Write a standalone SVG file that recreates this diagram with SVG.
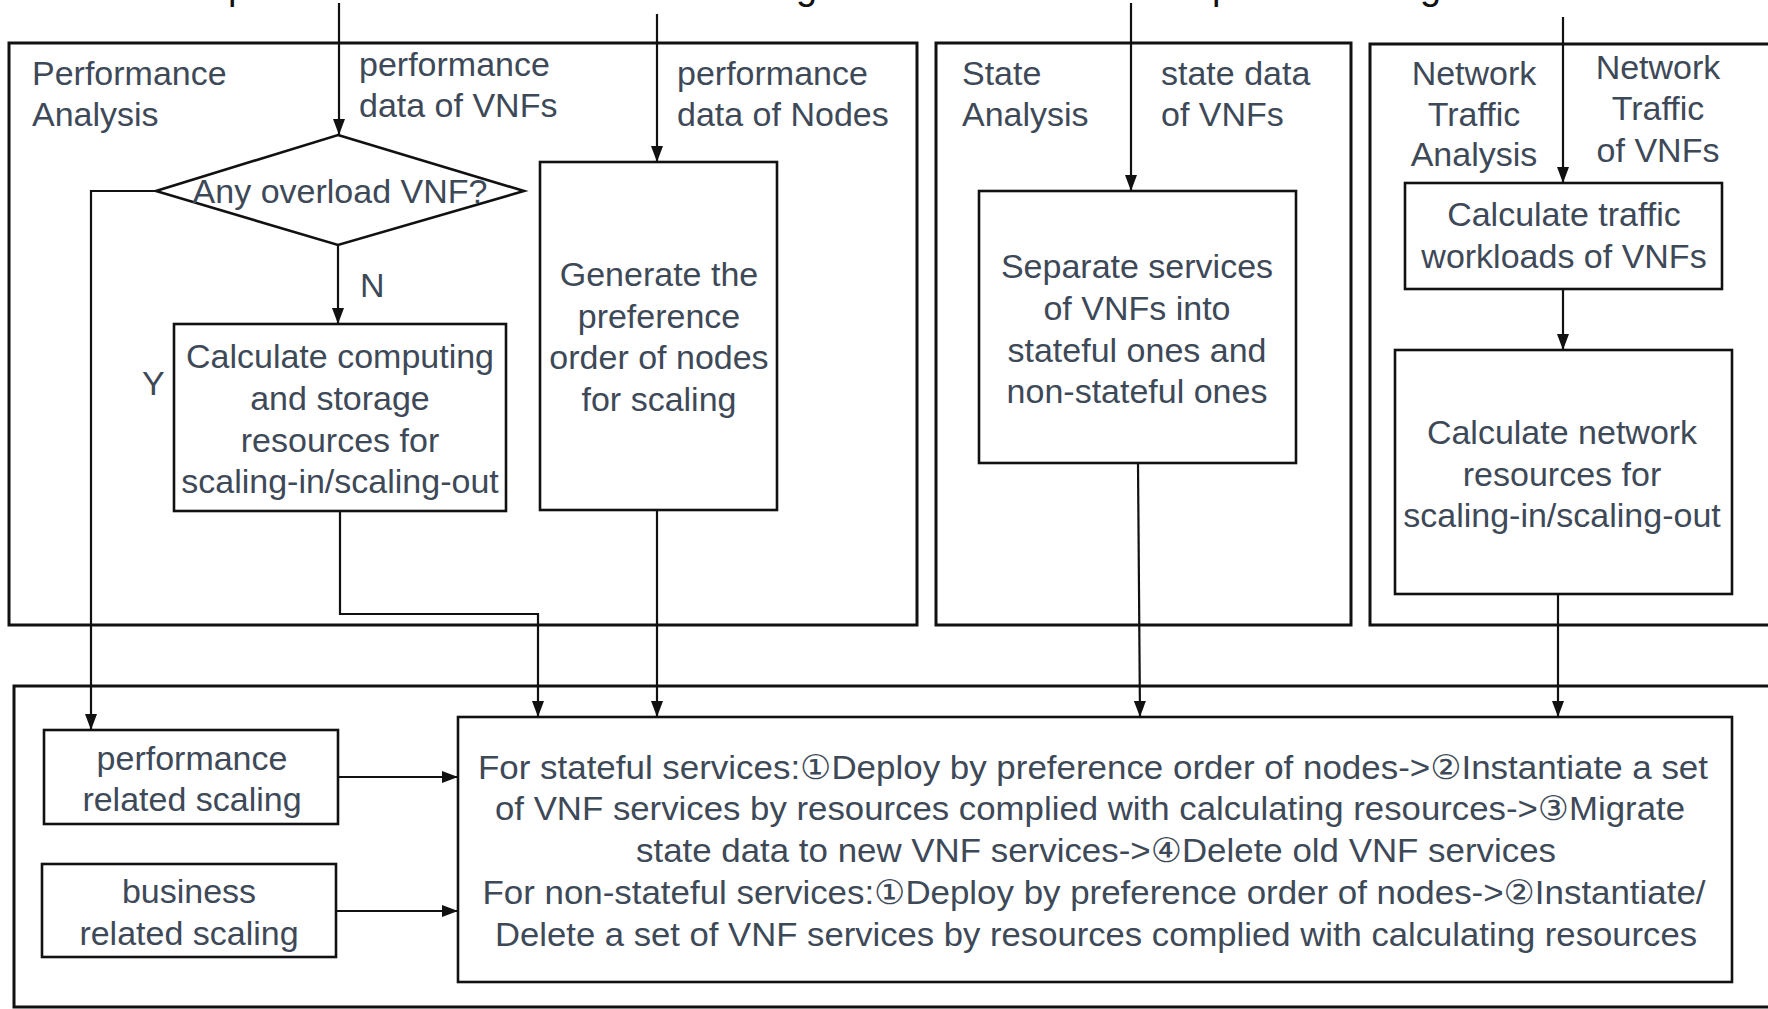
<svg xmlns="http://www.w3.org/2000/svg" width="1768" height="1009" viewBox="0 0 1768 1009">
<defs>
<style>
.box{fill:none;stroke:#111;stroke-width:2.6}
.frame{fill:none;stroke:#111;stroke-width:3}
.ln{fill:none;stroke:#111;stroke-width:2.2}
.t{font-family:"Liberation Sans",Arial,"DejaVu Sans",sans-serif;font-size:34px;fill:#3e4958}
.c{text-anchor:middle}
.frag{font-family:"Liberation Sans",Arial,sans-serif;font-size:38px;fill:#111}
</style>
<marker id="arr" viewBox="0 0 16 14" markerWidth="16" markerHeight="14" refX="16" refY="7" orient="auto" markerUnits="userSpaceOnUse">
<path d="M0,1 L16,7 L0,13 z" fill="#111"/>
</marker>
</defs>
<rect width="1768" height="1009" fill="#fff"/>

<g id="title-fragments">
<text class="frag" x="228" y="-1">p</text>
<text class="frag" x="796" y="-1">g</text>
<text class="frag" x="1212" y="-1">p</text>
<text class="frag" x="1420" y="-1">g</text>
</g>

<g id="performance-analysis">
<rect class="frame" x="9" y="43" width="908" height="582"/>
<text class="t" x="32" y="85">Performance</text>
<text class="t" x="32" y="126">Analysis</text>
<text class="t" x="359" y="76">performance</text>
<text class="t" x="359" y="117">data of VNFs</text>
<text class="t" x="677" y="85">performance</text>
<text class="t" x="677" y="126">data of Nodes</text>
</g>

<g id="overload-decision">
<polygon class="box" points="338,135 524,191 338,245 156,191"/>
<text class="t c" x="340" y="203">Any overload VNF?</text>
</g>

<g id="calc-computing">
<rect class="box" x="174" y="324" width="332" height="187"/>
<text class="t c" x="340" y="368">Calculate computing</text>
<text class="t c" x="340" y="410">and storage</text>
<text class="t c" x="340" y="452">resources for</text>
<text class="t c" x="340" y="493">scaling-in/scaling-out</text>
</g>

<g id="generate-order">
<rect class="box" x="540" y="162" width="237" height="348"/>
<text class="t c" x="659" y="286">Generate the</text>
<text class="t c" x="659" y="328">preference</text>
<text class="t c" x="659" y="369">order of nodes</text>
<text class="t c" x="659" y="411">for scaling</text>
</g>

<g id="state-analysis">
<rect class="frame" x="936" y="43" width="415" height="582"/>
<text class="t" x="962" y="85">State</text>
<text class="t" x="962" y="126">Analysis</text>
<text class="t" x="1161" y="85">state data</text>
<text class="t" x="1161" y="126">of VNFs</text>
</g>

<g id="separate-services">
<rect class="box" x="979" y="191" width="317" height="272"/>
<text class="t c" x="1137" y="278">Separate services</text>
<text class="t c" x="1137" y="320">of VNFs into</text>
<text class="t c" x="1137" y="362">stateful ones and</text>
<text class="t c" x="1137" y="403">non-stateful ones</text>
</g>

<g id="network-traffic-analysis">
<rect class="frame" x="1370" y="44" width="420" height="581"/>
<text class="t c" x="1474" y="85">Network</text>
<text class="t c" x="1474" y="126">Traffic</text>
<text class="t c" x="1474" y="166">Analysis</text>
<text class="t c" x="1658" y="79">Network</text>
<text class="t c" x="1658" y="120">Traffic</text>
<text class="t c" x="1658" y="162">of VNFs</text>
</g>

<g id="calc-traffic">
<rect class="box" x="1405" y="183" width="317" height="106"/>
<text class="t c" x="1564" y="226">Calculate traffic</text>
<text class="t c" x="1564" y="268">workloads of VNFs</text>
</g>

<g id="calc-network">
<rect class="box" x="1395" y="350" width="337" height="244"/>
<text class="t c" x="1562" y="444">Calculate network</text>
<text class="t c" x="1562" y="486">resources for</text>
<text class="t c" x="1562" y="527">scaling-in/scaling-out</text>
</g>

<g id="scaling-execution">
<rect class="frame" x="14" y="686" width="1780" height="321"/>
</g>

<g id="performance-related-scaling">
<rect class="box" x="44" y="730" width="294" height="94"/>
<text class="t c" x="192" y="770">performance</text>
<text class="t c" x="192" y="811">related scaling</text>
</g>

<g id="business-related-scaling">
<rect class="box" x="42" y="864" width="294" height="93"/>
<text class="t c" x="189" y="903">business</text>
<text class="t c" x="189" y="945">related scaling</text>
</g>

<g id="deploy-steps">
<rect class="box" x="458" y="717" width="1274" height="265"/>
<text class="t c" x="1093" y="779" textLength="1230" lengthAdjust="spacingAndGlyphs">For stateful services:①Deploy by preference order of nodes-&gt;②Instantiate a set</text>
<text class="t c" x="1090" y="820" textLength="1190" lengthAdjust="spacingAndGlyphs">of VNF services by resources complied with calculating resources-&gt;③Migrate</text>
<text class="t c" x="1096" y="862" textLength="920" lengthAdjust="spacingAndGlyphs">state data to new VNF services-&gt;④Delete old VNF services</text>
<text class="t c" x="1094" y="904" textLength="1223" lengthAdjust="spacingAndGlyphs">For non-stateful services:①Deploy by preference order of nodes-&gt;②Instantiate/</text>
<text class="t c" x="1096" y="946" textLength="1202" lengthAdjust="spacingAndGlyphs">Delete a set of VNF services by resources complied with calculating resources</text>
</g>

<g id="connectors">
<line class="ln" x1="339" y1="3" x2="339" y2="135" marker-end="url(#arr)"/>
<line class="ln" x1="657" y1="14" x2="657" y2="162" marker-end="url(#arr)"/>
<line class="ln" x1="1131" y1="3" x2="1131" y2="191" marker-end="url(#arr)"/>
<line class="ln" x1="1563" y1="17" x2="1563" y2="183" marker-end="url(#arr)"/>
<line class="ln" x1="338" y1="245" x2="338" y2="324" marker-end="url(#arr)"/>
<text class="t" x="360" y="297">N</text>
<polyline class="ln" points="156,191 91,191 91,730" marker-end="url(#arr)"/>
<text class="t" x="142" y="395">Y</text>
<polyline class="ln" points="340,511 340,614 538,614 538,717" marker-end="url(#arr)"/>
<line class="ln" x1="657" y1="510" x2="657" y2="717" marker-end="url(#arr)"/>
<line class="ln" x1="1138" y1="463" x2="1140" y2="717" marker-end="url(#arr)"/>
<line class="ln" x1="1563" y1="289" x2="1563" y2="350" marker-end="url(#arr)"/>
<line class="ln" x1="1558" y1="594" x2="1558" y2="717" marker-end="url(#arr)"/>
<line class="ln" x1="338" y1="777" x2="458" y2="777" marker-end="url(#arr)"/>
<line class="ln" x1="336" y1="911" x2="458" y2="911" marker-end="url(#arr)"/>
</g>
</svg>
